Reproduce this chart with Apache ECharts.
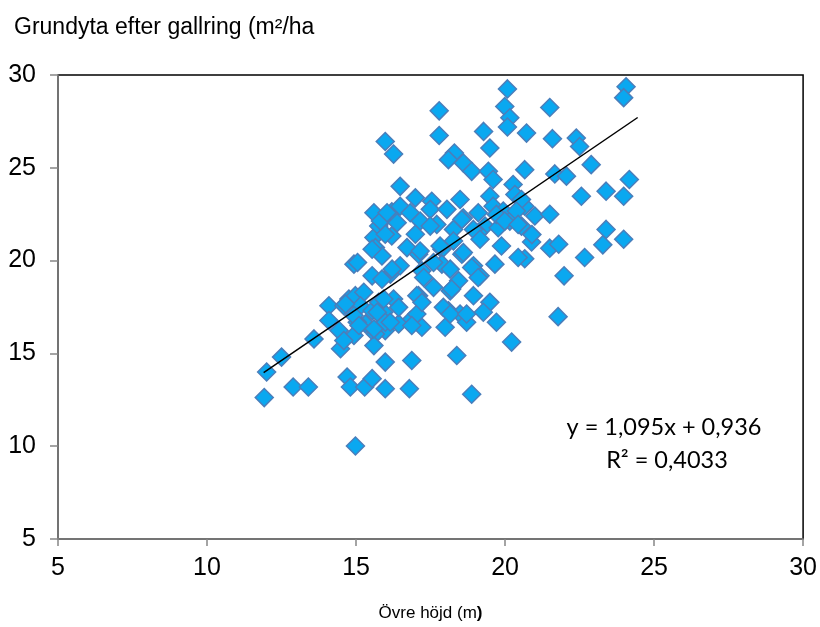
<!DOCTYPE html>
<html><head><meta charset="utf-8">
<script src="https://cdn.jsdelivr.net/npm/echarts@6/dist/echarts.min.js"></script>
<style>html,body{margin:0;padding:0;background:#fff}#c{width:820px;height:627px}</style>
</head><body><div id="c"></div>
<script>
const xTicks = [5, 10, 15, 20, 25, 30];
const yTicks = [5, 10, 15, 20, 25, 30];
const hojd = [
20.08,19.99,20.16,20.08,17.79,17.79,15.98,16.26,19.28,19.49,18.30,18.1,18.6,18.88,19.44,19.6,20.66,20.72,16.48,16.99,
16.2,15.87,16.48,16.82,17.15,17.54,17.49,18.05,18.49,18.6,19.1,19.49,19.6,20.27,20.33,19.94,20.16,20.66,17.71,18.27,
19.33,19.77,
24.06,23.98,21.5,21.59,22.39,22.5,22.89,21.67,22.06,24.17,22.56,23.39,23.98,20.55,21.0,21.5,23.39,20.55,
23.98,23.28,22.67,21.98,21.78,20.89,20.66,21.5,21.8,20.9,
16.2,16.99,16.71,17.1,17.88,18.55,19.1,19.88,16.15,16.48,17.21,17.88,18.16,18.94,19.16,19.66,17.6,17.1,18.16,18.44,
18.94,19.49,16.26,15.93,16.82,17.21,16.43,17.04,18.1,18.49,17.99,18.71,19.27,19.71,15.98,20.22,18.38,15.98,16.87,
16.79,18.88,
11.92,12.89,13.4,14.98,14.7,14.81,15.29,15.54,15.98,
12.0,12.5,13.59,14.09,14.09,14.48,14.59,14.43,14.93,14.93,14.76,14.98,15.26,15.15,15.32,15.04,15.54,15.65,15.6,15.98,
15.76,15.6,15.65,15.87,15.54,15.76,15.98,15.05,
15.6,15.82,16.04,
16.38,19.71,20.38,17.49,18.55,18.94,19.99,20.44,17.15,17.82,18.27,18.6,19.16,20.44,15.54,16.21,17.27,17.6,18.88,15.87,
14.65,15.93,17.04,18.21,19.1,14.93,15.71,16.43,17.21,17.93,18.16,18.71,15.1,15.6,16.15,16.87,14.59
];
const grundyta = [
29.25,28.3,27.7,27.2,28.07,26.74,26.42,25.74,26.96,26.07,25.8,25.44,25.26,24.81,24.81,24.37,24.9,26.87,24.0,23.38,
22.63,22.13,22.93,22.58,22.13,23.2,22.76,22.76,23.29,22.3,22.58,23.47,22.93,24.1,23.56,22.67,22.13,22.93,21.95,21.68,
21.86,21.77,
29.37,28.78,28.25,26.57,26.6,26.15,25.17,24.67,24.55,24.37,23.47,23.74,23.47,23.29,22.4,22.5,21.68,21.86,
21.15,20.85,20.17,19.18,16.98,21.0,20.1,20.67,20.88,21.4,
21.33,21.42,20.7,20.34,20.61,20.34,21.5,20.79,19.27,19.72,19.45,19.81,19.54,19.72,19.18,19.81,18.56,18.11,18.37,18.91,
18.11,17.75,17.93,17.22,16.77,16.41,16.59,17.12,17.3,17.12,16.41,16.68,17.22,16.68,16.23,15.61,14.89,14.53,14.62,
13.1,12.8,
12.62,13.19,13.19,10.01,13.73,13.19,13.19,13.64,13.1,
14.0,14.8,15.78,17.57,16.77,15.25,17.57,16.23,15.97,19.81,17.93,18.11,18.29,17.57,16.59,16.68,17.3,16.05,15.42,16.68,
17.75,21.24,20.7,20.25,19.18,21.86,21.42,19.9,
22.58,22.13,22.58,
22.04,22.49,22.67,21.86,22.22,21.68,22.13,21.95,20.52,20.79,21.06,20.43,21.15,20.17,20.61,19.54,19.09,19.9,19.63,19.0,
17.66,17.93,18.11,18.47,19.09,17.04,17.22,17.48,17.75,17.48,17.12,17.12,16.5,16.32,16.68,16.5,15.69
];
const trendX = [11.9, 24.45];
const trendY = [13.97, 27.71];

const pts = hojd.map((x, i) => [x, grundyta[i]]);
const chart = echarts.init(document.getElementById('c'), null, {renderer: 'canvas'});
const axisFont = {fontFamily: 'Liberation Sans, Arial, sans-serif', fontSize: 25, color: '#000'};
chart.setOption({
  animation: false,
  backgroundColor: '#fff',
  grid: {left: 58, right: 14, top: 75, bottom: 86, show: true, borderColor: '#000', borderWidth: 1.5, backgroundColor: 'transparent'},
  title: {text: 'Grundyta efter gallring (m²/ha', left: 9, top: 11,
    textStyle: {fontFamily: 'Liberation Sans, Arial, sans-serif', fontSize: 23, fontWeight: 'normal', color: '#000'}},
  xAxis: {type: 'value', min: xTicks[0], max: xTicks[xTicks.length - 1], interval: 5,
    name: 'Övre höjd (m{b|)}', nameLocation: 'middle', nameGap: 66,
    nameTextStyle: {fontFamily: 'Liberation Sans, Arial, sans-serif', fontSize: 17, color: '#000',
      rich: {b: {fontWeight: 'bold', fontSize: 17, fontFamily: 'Liberation Sans, Arial, sans-serif', color: '#000'}}},
    axisLine: {show: true, lineStyle: {color: '#868686', width: 1.5}},
    axisTick: {show: true, length: 7, lineStyle: {color: '#868686', width: 1.5}},
    axisLabel: Object.assign({margin: 17}, axisFont),
    splitLine: {show: false}},
  yAxis: {type: 'value', min: yTicks[0], max: yTicks[yTicks.length - 1], interval: 5,
    axisLine: {show: true, lineStyle: {color: '#868686', width: 1.5}},
    axisTick: {show: true, length: 8, lineStyle: {color: '#868686', width: 1.5}},
    axisLabel: Object.assign({margin: 22}, axisFont),
    splitLine: {show: false}},
  graphic: [
    {type: 'text', x: 664, y: 427, style: {text: 'y = 1,095x + 0,936', font: '23.5px Lato, "Open Sans", sans-serif', fill: '#000', textAlign: 'center', textVerticalAlign: 'middle'}},
    {type: 'text', x: 667, y: 460, style: {text: 'R² = 0,4033', font: '23.5px Lato, "Open Sans", sans-serif', fill: '#000', textAlign: 'center', textVerticalAlign: 'middle'}}
  ],
  series: [
    {type: 'scatter', data: pts, symbol: 'diamond', symbolSize: 18,
      itemStyle: {color: '#0AA8F0', borderColor: '#4A7EBB', borderWidth: 1.5, opacity: 1}, z: 2},
    {type: 'line', data: trendX.map((x, i) => [x, trendY[i]]), symbol: 'none',
      lineStyle: {color: '#000', width: 1.5}, z: 3}
  ]
});
</script></body></html>
